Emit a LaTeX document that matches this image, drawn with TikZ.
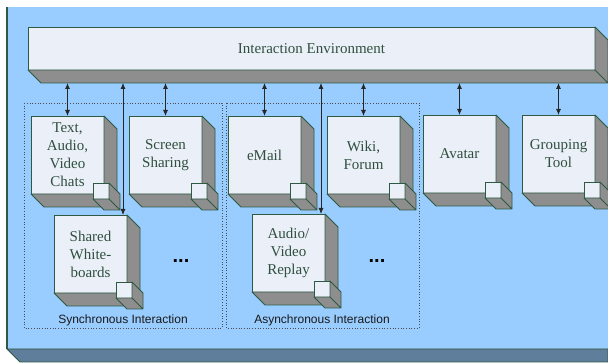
\documentclass[tikz,border=0pt]{standalone}
\usepackage{fontspec}
\setmainfont{Liberation Serif}
\setsansfont{Liberation Sans}
\newfontfamily\boxfont{Liberation Serif}
\usetikzlibrary{arrows.meta,calc}
\definecolor{platform}{HTML}{99CCFF}
\definecolor{platformbase}{HTML}{5E7E9C}
\definecolor{facefill}{HTML}{EBF0F8}
\definecolor{sidefill}{HTML}{8E8E8E}
\definecolor{edgegreen}{HTML}{2E5A44}
\definecolor{labelgreen}{HTML}{2F4F3F}
\tikzset{block/.style={draw=edgegreen, fill=facefill, line width=0.8pt,
    minimum width=73pt, minimum height=78pt, anchor=north west,
    inner sep=0pt, outer sep=0pt, align=center, text=labelgreen,
    font=\boxfont\fontsize{15}{18}\selectfont}}
\tikzset{cube/.style={draw=edgegreen, fill=facefill, line width=0.8pt,
    minimum size=16pt, anchor=north west, inner sep=0pt, outer sep=0pt}}
\tikzset{side/.style={draw=edgegreen, fill=sidefill, line width=0.8pt, line join=round}}
\tikzset{link/.style={{Latex[length=6pt,width=5pt]}-{Latex[length=6pt,width=5pt]}, line width=0.8pt, draw=black!85}}
\tikzset{group/.style={draw=black!70, dotted, line width=0.7pt}}
\tikzset{grouplabel/.style={font=\sffamily\fontsize{12}{14}\selectfont, text=black!90}}
\tikzset{more/.style={font=\sffamily\bfseries\fontsize{20}{22}\selectfont}}
% side and bottom faces of a box
\newcommand{\extrude}[2]{%
  \filldraw[side] (#1.north east) -- ++(#2,#2) -- ($(#1.south east)+(#2,#2)$)
    -- ($(#1.south west)+(#2,#2)$) -- (#1.south west) -- (#1.south east) -- cycle
    (#1.south east) -- ++(#2,#2);}
% a tool box with its little cube
\newcommand{\toolbox}[3]{%
  \node[block] (#1) at (#2) {#3};
  \extrude{#1}{13}
  \node[cube] (#1-c) at ($(#1.south east)+(-11,-11)$) {};
  \extrude{#1-c}{11}}

\begin{document}
\begin{tikzpicture}[x=1pt, y=-1pt]
  \useasboundingbox (0,0) rectangle (608,363);
  % platform
  \fill[white] (0,0) rectangle (608,363);
  \fill[platform] (7,7) rectangle (608,349);
  \filldraw[fill=platformbase, draw=edgegreen, line width=0.8pt]
    (7,349) -- (608,349) -- (608,362) -- (20,362) -- cycle;
  \draw[edgegreen, line width=1.5pt] (7,7) -- (7,349);

  % groups
  \draw[group] (24,103) rectangle (222,328);
  \draw[group] (226,103) rectangle (419,328);
  \node[grouplabel] (synclabel) at (123,320) {Synchronous Interaction};
  \node[grouplabel] (asynclabel) at (322,320) {Asynchronous Interaction};

  % environment
  \node[block, minimum width=567pt, minimum height=43pt] (env) at (28,27) {Interaction Environment};
  \extrude{env}{13}
  \coordinate (envbase) at ($(env.south)+(13,13)$);

  % tools
  \toolbox{chat}{31,116}{Text,\\Audio,\\Video\\Chats}
  \toolbox{screen}{129,116}{Screen\\Sharing}
  \toolbox{mail}{228,116}{eMail}
  \toolbox{wiki}{327,116}{Wiki,\\Forum}
  \toolbox{avatar}{423,115}{Avatar}
  \toolbox{group}{522,115}{Grouping\\Tool}
  \toolbox{board}{54,215}{Shared\\White-\\boards}
  \toolbox{replay}{252,214}{Audio/\\Video\\Replay}

  \node[more] (syncmore) at (181,261) {...};
  \node[more] (asyncmore) at (377,261) {...};

  % links
  \foreach \t in {chat,screen,mail,wiki,avatar,group}
    \draw[link] (\t.north) -- (\t.north |- envbase);
  \coordinate (board-in) at ($(board.north east)+(-4,0)$);
  \coordinate (replay-in) at ($(replay.north east)+(-4,0)$);
  \draw[link] (board-in) -- (board-in |- envbase);
  \draw[link] (replay-in) -- (replay-in |- envbase);
\end{tikzpicture}
\end{document}
